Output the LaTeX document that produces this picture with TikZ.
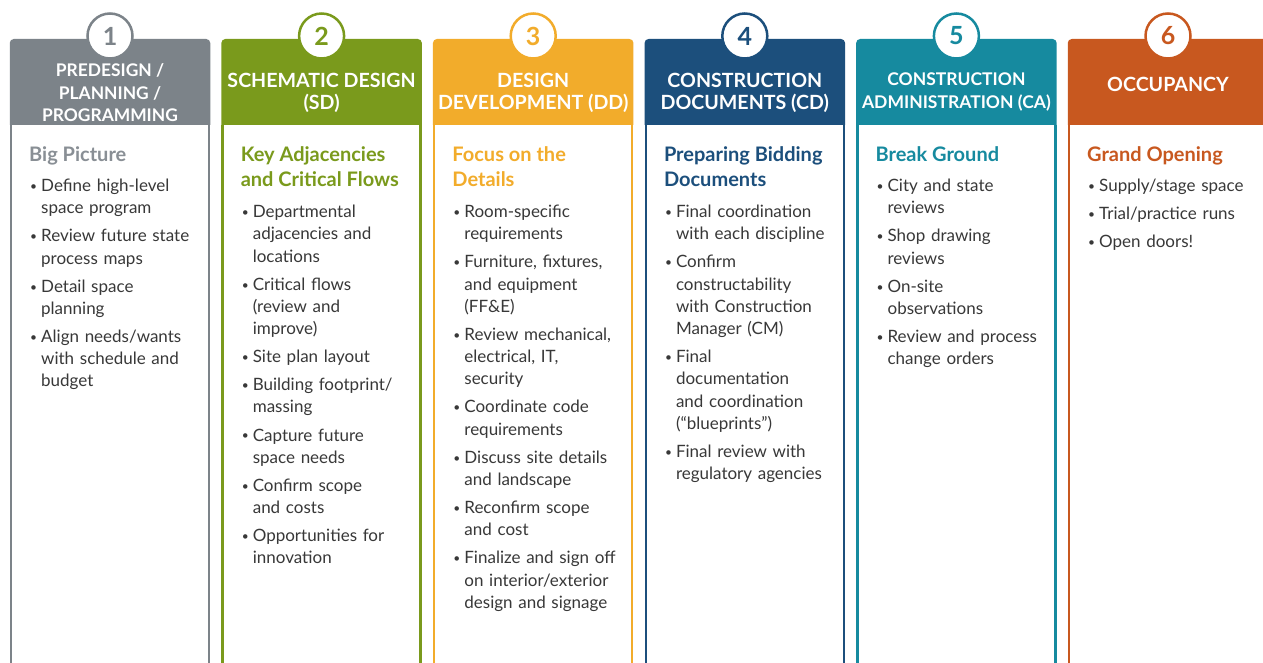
\documentclass[tikz,border=0pt]{standalone}
\usepackage{fontspec}
\setmainfont{Lato}
\usetikzlibrary{positioning}

\definecolor{predes}{HTML}{7C8389}
\definecolor{schem}{HTML}{7A9A1C}
\definecolor{devel}{HTML}{F2AC2B}
\definecolor{cdocs}{HTML}{1C4F7C}
\definecolor{cadmin}{HTML}{168A9F}
\definecolor{occup}{HTML}{C8581F}
\definecolor{bodytxt}{HTML}{383838}

% one bullet point; wrapped lines sit in a top-aligned parbox,
% prevdepth reset so the next item keeps the normal line pitch
\newcommand{\bl}[1]{\ifhmode\par\fi
  \hbox{\vrule height 13pt width 0pt\relax
  \makebox[11pt][l]{\fontsize{12}{12}\selectfont\raisebox{1pt}{•}}%
  \parbox[t]{175pt}{\raggedright#1\strut}}\prevdepth=\dp\strutbox
  \vskip5.7pt\relax}

\tikzset{
  phasehead/.style={text=white, align=center, inner sep=0pt,
    font=\bfseries\fontsize{#1}{22.5}\selectfont},
  topic/.style={text=#1, anchor=north west, align=left, inner sep=0pt,
    font=\bfseries\fontsize{20}{25}\selectfont},
  items/.style={text=bodytxt, anchor=north west, text width=190pt, inner sep=0pt,
    font=\fontsize{17}{22.3}\selectfont},
  numring/.style={circle, draw=#1, line width=2.5pt, fill=white, minimum size=45pt,
    inner sep=0pt, text=#1, font=\bfseries\fontsize{25}{25}\selectfont}
}

\begin{document}
\begin{tikzpicture}[x=1pt, y=1pt]
  \useasboundingbox (0,0) rectangle (1263,-663);
  \clip (0,0) rectangle (1263,-663);
  \fill[white] (0,0) rectangle (1263,-663);

  % columns: frame, coloured header and number ring
  \foreach \i/\c in {0/predes, 1/schem, 2/devel, 3/cdocs, 4/cadmin, 5/occup} {
    \pgfmathsetmacro{\xl}{11+211.6*\i}
    \pgfmathtruncatemacro{\n}{\i+1}
    \draw[draw=\c, line width=2.5pt, fill=white]
      (\xl,-125) -- (\xl,-700) -- (\xl+198,-700) -- (\xl+198,-125);
    \fill[\c] (\xl-1.25,-125) {[rounded corners=4pt] -- (\xl-1.25,-39)
      -- (\xl+199.25,-39)} -- (\xl+199.25,-125) -- cycle;
    \node[numring=\c] (num\n) at (\xl+99,-36) {\n};
  }

  % header titles
  \node[phasehead=17.4] (hd1) at (110,-93) {PREDESIGN /\\PLANNING /\\PROGRAMMING};
  \node[phasehead=19.6] (hd2) at (321.6,-93) {SCHEMATIC DESIGN\\(SD)};
  \node[phasehead=19.6] (hd3) at (533.2,-93) {DESIGN\\DEVELOPMENT (DD)};
  \node[phasehead=19.6] (hd4) at (744.8,-93) {CONSTRUCTION\\DOCUMENTS (CD)};
  \node[phasehead=17.5] (hd5) at (956.4,-92) {CONSTRUCTION\\ADMINISTRATION (CA)};
  \node[phasehead=19.6] (hd6) at (1168,-84) {OCCUPANCY};

  % 1 predesign
  \node[topic=predes!90!white] (tp1) at (29,-146) {Big Picture};
  \node[items] (ls1) at (30,-169) {%
    \bl{Define high-level\\space program}
    \bl{Review future state\\process maps}
    \bl{Detail space\\planning}
    \bl{Align needs/wants\\with schedule and\\budget}};

  % 2 schematic design
  \node[topic=schem] (tp2) at (240.6,-146) {Key Adjacencies\\and Critical Flows};
  \node[items] (ls2) at (241.6,-195) {%
    \bl{Departmental\\adjacencies and\\locations}
    \bl{Critical flows\\(review and\\improve)}
    \bl{Site plan layout}
    \bl{Building footprint/\\massing}
    \bl{Capture future\\space needs}
    \bl{Confirm scope\\and costs}
    \bl{Opportunities for\\innovation}};

  % 3 design development
  \node[topic=devel] (tp3) at (452.2,-146) {Focus on the\\Details};
  \node[items] (ls3) at (453.2,-195) {%
    \bl{Room-specific\\requirements}
    \bl{Furniture, fixtures,\\and equipment\\(FF\&E)}
    \bl{Review mechanical,\\electrical, IT,\\security}
    \bl{Coordinate code\\requirements}
    \bl{Discuss site details\\and landscape}
    \bl{Reconfirm scope\\and cost}
    \bl{Finalize and sign off\\on interior/exterior\\design and signage}};

  % 4 construction documents
  \node[topic=cdocs] (tp4) at (663.8,-146) {Preparing Bidding\\Documents};
  \node[items] (ls4) at (664.8,-195) {%
    \bl{Final coordination\\with each discipline}
    \bl{Confirm\\constructability\\with Construction\\Manager (CM)}
    \bl{Final\\documentation\\and coordination\\(“blueprints”)}
    \bl{Final review with\\regulatory agencies}};

  % 5 construction administration
  \node[topic=cadmin] (tp5) at (875.4,-146) {Break Ground};
  \node[items] (ls5) at (876.4,-169) {%
    \bl{City and state\\reviews}
    \bl{Shop drawing\\reviews}
    \bl{On-site\\observations}
    \bl{Review and process\\change orders}};

  % 6 occupancy
  \node[topic=occup] (tp6) at (1087,-146) {Grand Opening};
  \node[items] (ls6) at (1088,-169) {%
    \bl{Supply/stage space}
    \bl{Trial/practice runs}
    \bl{Open doors!}};
\end{tikzpicture}
\end{document}
